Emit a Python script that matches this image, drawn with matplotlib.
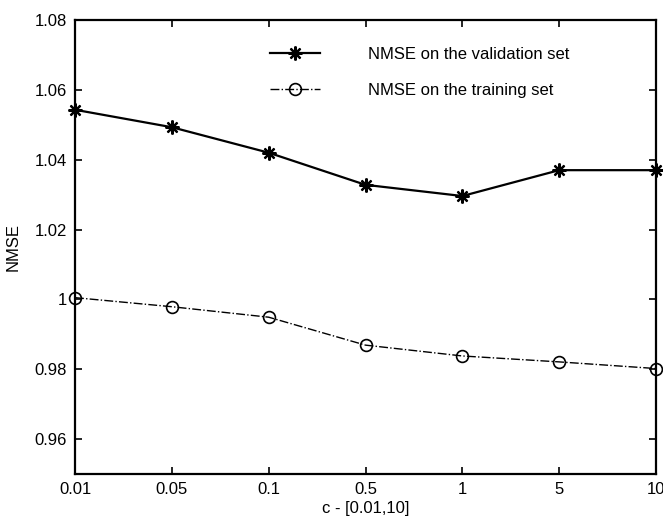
import matplotlib.pyplot as plt
import numpy as np

plt.rcParams['font.family'] = ['Liberation Sans', 'DejaVu Sans']

# regularisation parameter values and NMSE results
c_labels = ["0.01", "0.05", "0.1", "0.5", "1", "5", "10"]
nmse_validation = [1.0543, 1.0493, 1.0420, 1.0328, 1.0296, 1.0370, 1.0370]
nmse_training = [1.0005, 0.9979, 0.9949, 0.9869, 0.9838, 0.9821, 0.9802]

x = np.arange(len(c_labels))

fig = plt.figure(figsize=(6.63, 5.19), dpi=100)
ax = fig.add_axes([75 / 663, 1 - 474 / 519, 581 / 663, 454 / 519])

ax.plot(x, nmse_validation, color="black", linestyle="-", linewidth=1.6,
        marker=(8, 2, 0), markersize=10, markeredgewidth=1.6,
        label="NMSE on the validation set", clip_on=False)
ax.plot(x, nmse_training, color="black", linestyle="-.", linewidth=1.0,
        marker="o", markersize=8.5, markerfacecolor="none", markeredgewidth=1.2,
        label="NMSE on the training set", clip_on=False)

ax.set_xlim(0, len(c_labels) - 1)
ax.set_ylim(0.95, 1.08)
ax.set_xticks(x)
ax.set_xticklabels(c_labels)
ax.set_yticks([0.96, 0.98, 1.00, 1.02, 1.04, 1.06, 1.08])
ax.set_yticklabels(["0.96", "0.98", "1", "1.02", "1.04", "1.06", "1.08"])
ax.tick_params(direction="in", length=5, width=1.2, top=True, right=True,
               labelsize=12, pad=6, colors="black")
for side in ax.spines.values():
    side.set_linewidth(1.6)

ax.set_xlabel("c - [0.01,10]", fontsize=12, labelpad=3)
ax.set_ylabel("NMSE", fontsize=12, labelpad=10)

ax.legend(loc="upper left", bbox_to_anchor=(0.309, 0.974), frameon=False,
          fontsize=12, handlelength=3.0, handletextpad=2.9, labelspacing=1.25)

fig.savefig("out.png", dpi=100)
